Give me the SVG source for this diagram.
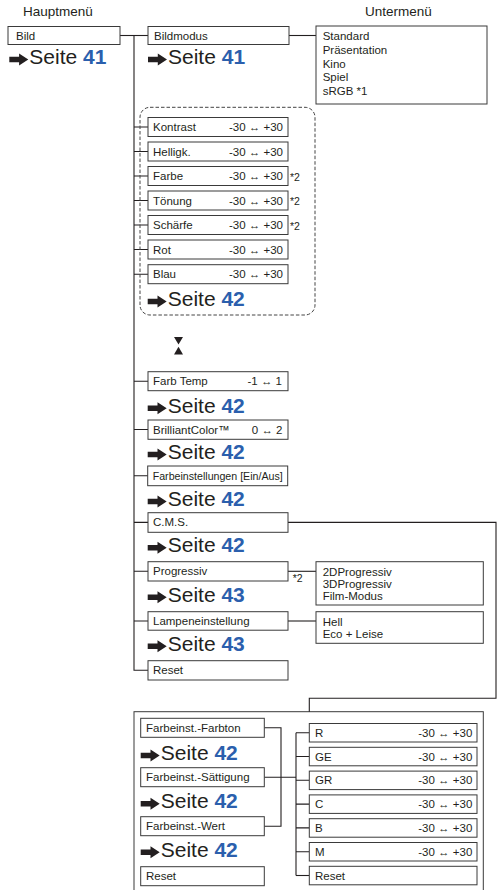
<svg xmlns="http://www.w3.org/2000/svg" xmlns:xlink="http://www.w3.org/1999/xlink" width="500" height="890" viewBox="0 0 500 890">
<style>
text{font-family:"Liberation Sans",Arial,Helvetica,sans-serif;fill:#231f20}
.hd{font-size:13.5px}
.lb{font-size:11.5px}
.val{font-size:11.5px;text-anchor:end}
.note{font-size:10.5px}
.seite{font-size:21px}
.num{font-weight:bold;fill:#2b5fad}
.box{fill:#fff;stroke:#3a3a3a;stroke-width:1}
.frame{fill:none;stroke:#3a3a3a;stroke-width:1}
.ln{fill:none;stroke:#231f20;stroke-width:1.1}
.dash{fill:none;stroke:#444;stroke-width:1;stroke-dasharray:3.5 2}
</style>
<defs>
<path id="arr" d="M0,-2.8 H9.8 V-6 L19,0 L9.8,6 V2.8 H0 Z" fill="#231f20"/>
</defs>

<rect width="500" height="890" fill="#fff"/>

<text class="hd" x="23" y="16">Hauptmenü</text>
<text class="hd" x="365" y="16">Untermenü</text>

<g id="cms-gruppe">
<rect class="frame" x="134" y="711.7" width="349.3" height="190"/>
</g>

<g id="connectors">
<path class="ln" d="M120,35.5 H148"/>
<path class="ln" d="M134,35.5 V670.3 H148"/>
<path class="ln" d="M134,127 H148 M134,151.5 H148 M134,176 H148 M134,200.5 H148 M134,225 H148 M134,249.5 H148 M134,274.2 H148"/>
<path class="ln" d="M134,381.2 H148 M134,429.5 H148 M134,475.8 H148 M134,522.4 H148 M134,571.3 H148 M134,621 H148"/>
<path class="ln" d="M289,35.5 H316"/>
<path class="ln" d="M288,571.3 H316"/>
<path class="ln" d="M288,621 H316"/>
<path class="ln" d="M288,522.4 H496 V698.3 H309.3 V711.7"/>
<path class="ln" d="M264.3,727.8 H281 V826.2 H264.3 M264.3,777.2 H296"/>
<path class="ln" d="M296,732.7 V875.5"/>
<path class="ln" d="M296,732.7 H309.3 M296,756.5 H309.3 M296,780.3 H309.3 M296,804.1 H309.3 M296,827.9 H309.3 M296,851.7 H309.3"/>
<path class="ln" d="M296,875.5 H309.3" stroke-width="1.8"/>
</g>

<g id="bild">
<rect class="box" x="8" y="26.5" width="112" height="18"/>
<text class="lb" x="16" y="39.5">Bild</text>
</g>
<g id="seite-bild" transform="translate(9.3,64)">
<use xlink:href="#arr" y="-4.5"/>
<text class="seite" x="20">Seite <tspan class="num">41</tspan></text>
</g>

<g id="bildmodus">
<rect class="box" x="148" y="26.5" width="141" height="18"/>
<text class="lb" x="154" y="39.5">Bildmodus</text>
</g>
<g id="seite-bildmodus" transform="translate(148,64)">
<use xlink:href="#arr" y="-4.5"/>
<text class="seite" x="20">Seite <tspan class="num">41</tspan></text>
</g>

<g id="bildmodus-sub">
<rect class="box" x="316" y="26" width="171" height="78"/>
<text class="lb" x="322.7" y="40">Standard</text>
<text class="lb" x="322.7" y="53.8">Präsentation</text>
<text class="lb" x="322.7" y="67.6">Kino</text>
<text class="lb" x="322.7" y="81.4">Spiel</text>
<text class="lb" x="322.7" y="95.2">sRGB *1</text>
</g>

<g id="bildgruppe">
<rect class="dash" x="140" y="107.3" width="175" height="207.7" rx="10" ry="10"/>
</g>

<g id="kontrast">
<rect class="box" x="148" y="117.5" width="140" height="19"/>
<text class="lb" x="153" y="131">Kontrast</text>
<text class="val" x="283" y="131">-30 ↔ +30</text>
</g>
<g id="helligk">
<rect class="box" x="148" y="142" width="140" height="19"/>
<text class="lb" x="153" y="155.5">Helligk.</text>
<text class="val" x="283" y="155.5">-30 ↔ +30</text>
</g>
<g id="farbe">
<rect class="box" x="148" y="166.5" width="140" height="19"/>
<text class="lb" x="153" y="180">Farbe</text>
<text class="val" x="283" y="180">-30 ↔ +30</text>
<text class="note" x="290" y="180.5">*2</text>
</g>
<g id="toenung">
<rect class="box" x="148" y="191" width="140" height="19"/>
<text class="lb" x="153" y="204.5">Tönung</text>
<text class="val" x="283" y="204.5">-30 ↔ +30</text>
<text class="note" x="290" y="205">*2</text>
</g>
<g id="schaerfe">
<rect class="box" x="148" y="215.5" width="140" height="19"/>
<text class="lb" x="153" y="229">Schärfe</text>
<text class="val" x="283" y="229">-30 ↔ +30</text>
<text class="note" x="290" y="229.5">*2</text>
</g>
<g id="rot">
<rect class="box" x="148" y="240" width="140" height="19"/>
<text class="lb" x="153" y="253.5">Rot</text>
<text class="val" x="283" y="253.5">-30 ↔ +30</text>
</g>
<g id="blau">
<rect class="box" x="148" y="264.7" width="140" height="19"/>
<text class="lb" x="153" y="278.2">Blau</text>
<text class="val" x="283" y="278.2">-30 ↔ +30</text>
</g>
<g id="seite-bildgruppe" transform="translate(147.7,306)">
<use xlink:href="#arr" y="-4.5"/>
<text class="seite" x="20">Seite <tspan class="num">42</tspan></text>
</g>

<g id="blaettern">
<path d="M174,337 H183 L178.5,344.5 Z" fill="#231f20"/>
<path d="M178.5,346.7 L183,354.5 H174 Z" fill="#231f20"/>
</g>

<g id="farbtemp">
<rect class="box" x="148" y="371.7" width="140" height="19"/>
<text class="lb" x="153" y="385.2">Farb Temp</text>
<text class="val" x="282" y="385.2">-1 ↔ 1</text>
</g>
<g id="seite-farbtemp" transform="translate(147.7,412.7)">
<use xlink:href="#arr" y="-4.5"/>
<text class="seite" x="20">Seite <tspan class="num">42</tspan></text>
</g>

<g id="brilliantcolor">
<rect class="box" x="148" y="420" width="140" height="19.3"/>
<text class="lb" x="153" y="433.6">BrilliantColor™</text>
<text class="val" x="282.5" y="433.6">0 ↔ 2</text>
</g>
<g id="seite-brilliantcolor" transform="translate(147.7,459)">
<use xlink:href="#arr" y="-4.5"/>
<text class="seite" x="20">Seite <tspan class="num">42</tspan></text>
</g>

<g id="farbeinstellungen">
<rect class="box" x="147.7" y="466" width="140" height="19.7"/>
<text class="lb" x="152.7" y="479.8" textLength="130" lengthAdjust="spacingAndGlyphs">Farbeinstellungen [Ein/Aus]</text>
</g>
<g id="seite-farbeinstellungen" transform="translate(147.7,506)">
<use xlink:href="#arr" y="-4.5"/>
<text class="seite" x="20">Seite <tspan class="num">42</tspan></text>
</g>

<g id="cms">
<rect class="box" x="148" y="512.7" width="140" height="19.6"/>
<text class="lb" x="153" y="526.4">C.M.S.</text>
</g>
<g id="seite-cms" transform="translate(147.7,552.3)">
<use xlink:href="#arr" y="-4.5"/>
<text class="seite" x="20">Seite <tspan class="num">42</tspan></text>
</g>

<g id="progressiv">
<rect class="box" x="148" y="561.7" width="140" height="19.3"/>
<text class="lb" x="153" y="575.3">Progressiv</text>
<text class="note" x="292.7" y="582.3">*2</text>
</g>
<g id="seite-progressiv" transform="translate(147.7,601.7)">
<use xlink:href="#arr" y="-4.5"/>
<text class="seite" x="20">Seite <tspan class="num">43</tspan></text>
</g>
<g id="progressiv-sub">
<rect class="box" x="316" y="561.7" width="167.3" height="43.3"/>
<text class="lb" x="322.7" y="576">2DProgressiv</text>
<text class="lb" x="322.7" y="588.3">3DProgressiv</text>
<text class="lb" x="322.7" y="600.3">Film-Modus</text>
</g>

<g id="lampe">
<rect class="box" x="148" y="611.7" width="140" height="18.5"/>
<text class="lb" x="153" y="625">Lampeneinstellung</text>
</g>
<g id="seite-lampe" transform="translate(147.7,650.7)">
<use xlink:href="#arr" y="-4.5"/>
<text class="seite" x="20">Seite <tspan class="num">43</tspan></text>
</g>
<g id="lampe-sub">
<rect class="box" x="316" y="611.7" width="167.3" height="31.6"/>
<text class="lb" x="322.7" y="626">Hell</text>
<text class="lb" x="322.7" y="638">Eco + Leise</text>
</g>

<g id="reset">
<rect class="box" x="148" y="660.7" width="140" height="19.3"/>
<text class="lb" x="153" y="674.3">Reset</text>
</g>

<g id="farbton">
<rect class="box" x="140.7" y="718.3" width="123.6" height="19"/>
<text class="lb" x="146" y="731.8">Farbeinst.-Farbton</text>
</g>
<g id="seite-farbton" transform="translate(140.7,760)">
<use xlink:href="#arr" y="-4.5"/>
<text class="seite" x="20">Seite <tspan class="num">42</tspan></text>
</g>
<g id="saettigung">
<rect class="box" x="140.7" y="767.7" width="123.6" height="19"/>
<text class="lb" x="146" y="781.2">Farbeinst.-Sättigung</text>
</g>
<g id="seite-saettigung" transform="translate(140.7,808.3)">
<use xlink:href="#arr" y="-4.5"/>
<text class="seite" x="20">Seite <tspan class="num">42</tspan></text>
</g>
<g id="wert">
<rect class="box" x="140.7" y="816.7" width="123.6" height="19"/>
<text class="lb" x="146" y="830.2">Farbeinst.-Wert</text>
</g>
<g id="seite-wert" transform="translate(140.7,856.7)">
<use xlink:href="#arr" y="-4.5"/>
<text class="seite" x="20">Seite <tspan class="num">42</tspan></text>
</g>
<g id="cms-reset-links">
<rect class="box" x="140.7" y="866.7" width="123.6" height="19"/>
<text class="lb" x="146" y="880.2">Reset</text>
</g>

<g id="r">
<rect class="box" x="309.3" y="723.5" width="167.7" height="18.5"/>
<text class="lb" x="315" y="736.8">R</text>
<text class="val" x="472.3" y="736.8">-30 ↔ +30</text>
</g>
<g id="ge">
<rect class="box" x="309.3" y="747.3" width="167.7" height="18.5"/>
<text class="lb" x="315" y="760.6">GE</text>
<text class="val" x="472.3" y="760.6">-30 ↔ +30</text>
</g>
<g id="gr">
<rect class="box" x="309.3" y="771.1" width="167.7" height="18.5"/>
<text class="lb" x="315" y="784.4">GR</text>
<text class="val" x="472.3" y="784.4">-30 ↔ +30</text>
</g>
<g id="c">
<rect class="box" x="309.3" y="794.9" width="167.7" height="18.5"/>
<text class="lb" x="315" y="808.2">C</text>
<text class="val" x="472.3" y="808.2">-30 ↔ +30</text>
</g>
<g id="b">
<rect class="box" x="309.3" y="818.7" width="167.7" height="18.5"/>
<text class="lb" x="315" y="832">B</text>
<text class="val" x="472.3" y="832">-30 ↔ +30</text>
</g>
<g id="m">
<rect class="box" x="309.3" y="842.5" width="167.7" height="18.5"/>
<text class="lb" x="315" y="855.8">M</text>
<text class="val" x="472.3" y="855.8">-30 ↔ +30</text>
</g>
<g id="cms-reset-rechts">
<rect class="box" x="309.3" y="866.3" width="167.7" height="18.5"/>
<text class="lb" x="315" y="879.6">Reset</text>
</g>
</svg>
